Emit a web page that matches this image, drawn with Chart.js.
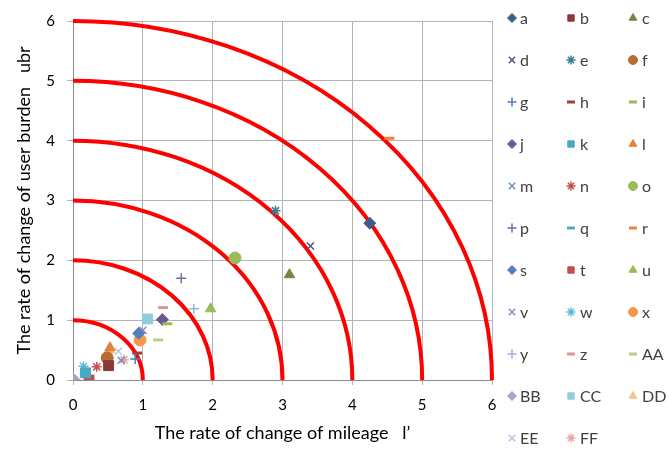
<!DOCTYPE html>
<html>
<head>
<meta charset="utf-8">
<script src="https://cdn.jsdelivr.net/npm/chart.js@4/dist/chart.umd.min.js"></script>
<style>
  html, body { margin: 0; padding: 0; background: #fff; }
  #wrap { width: 668px; height: 450px; position: relative; }
</style>
</head>
<body>
<div id="wrap"><canvas id="chart"></canvas></div>
<script>
// series names and values
const seriesNames = ['a','b','c','d','e','f','g','h','i','j','k','l','m','n','o','p',
                     'q','r','s','t','u','v','w','x','y','z','AA','BB','CC','DD','EE','FF'];
const xValues = [4.25, 0.51, 3.10, 3.40, 2.90, 0.49, 0.89, 0.92, 1.35, 1.28, 0.18, 0.53, 0.69, 0.34, 2.32, 1.55,
                 0.17, 4.53, 0.94, 0.23, 1.97, 1.00, 0.15, 0.96, 1.73, 1.29, 1.22, 0.02, 1.07, 0.52, 0.65, 0.73];
const yValues = [2.62, 0.24, 1.76, 2.24, 2.83, 0.37, 0.35, 0.45, 0.94, 1.01, 0.12, 0.54, 0.33, 0.22, 2.04, 1.70,
                 0.10, 4.04, 0.78, 0.00, 1.19, 0.83, 0.23, 0.67, 1.19, 1.21, 0.67, 0.00, 1.02, 0.50, 0.48, 0.34];
// reference rings (radius in axis units)
const ringRadii = [1, 2, 3, 4, 5, 6];
const axisTicks = [0, 1, 2, 3, 4, 5, 6];

// marker look per series (Excel style)
const markerStyles = ['rectRot','rect','triangle','crossRot','star','circle','cross','line','line','rectRot','rect','triangle','crossRot','star','circle','cross',
                      'line','line','rectRot','rect','triangle','crossRot','star','circle','cross','line','line','rectRot','rect','triangle','crossRot','star'];
const markerColors = ['#3B5E8C','#8C3836','#71893F','#5F4B7E','#357D91','#B66D31','#4A7EBB','#9E3F3C','#98B954','#6F5691','#46AAC5','#E0823A','#6E8FC4','#C9504D','#9BBB59','#8064A2',
                      '#4BACC6','#E9853A','#4F81BD','#C0504D','#9BBB59','#9A87C0','#62BBD4','#F79646','#95B3D7','#D99694','#B5CD8A','#B3A2C7','#93CDDD','#FAC090','#B0C7E3','#E6A9A8'];

const FONT = 'Lato, Carlito, "Liberation Sans", sans-serif';

function isLineStyle(s) {
  return s === 'cross' || s === 'crossRot' || s === 'star' || s === 'line';
}

const datasets = seriesNames.map((name, i) => {
  const st = markerStyles[i];
  return {
    label: name,
    data: [{ x: xValues[i], y: yValues[i] }],
    pointStyle: st,
    pointRadius: st === 'rect' ? 7 : (st === 'rectRot' ? 6 : (isLineStyle(st) ? 5 : 6)),
    pointBackgroundColor: markerColors[i],
    pointBorderColor: markerColors[i],
    pointBorderWidth: st === 'line' ? 3 : (isLineStyle(st) ? 1.5 : 1)
  };
});

// red quarter circles drawn through the axis scales
const ringsPlugin = {
  id: 'rings',
  beforeDatasetsDraw(chart) {
    const xs = chart.scales.x, ys = chart.scales.y, ctx = chart.ctx;
    const x0 = xs.getPixelForValue(0), y0 = ys.getPixelForValue(0);
    ctx.save();
    ctx.strokeStyle = '#FF0000';
    ctx.lineWidth = 4;
    ringRadii.forEach(r => {
      const rx = xs.getPixelForValue(r) - x0;
      const ry = y0 - ys.getPixelForValue(r);
      ctx.beginPath();
      ctx.ellipse(x0, y0, rx, ry, 0, -Math.PI / 2, 0);
      ctx.stroke();
    });
    ctx.restore();
  }
};

// legend in 3 columns, row by row like the original
const gridLegend = {
  id: 'gridLegend',
  afterDraw(chart) {
    const ctx = chart.ctx;
    const colMarker = [512, 571, 633];
    const colText = [520, 580, 642];
    ctx.save();
    ctx.font = '16px ' + FONT;
    ctx.textBaseline = 'middle';
    chart.data.datasets.forEach((ds, i) => {
      const row = Math.floor(i / 3), col = i % 3;
      const y = 18 + row * 42;
      const st = ds.pointStyle;
      ctx.fillStyle = ds.pointBackgroundColor;
      ctx.strokeStyle = ds.pointBorderColor;
      ctx.lineWidth = st === 'line' ? 3 : (isLineStyle(st) ? 1.5 : 1);
      Chart.helpers.drawPoint(ctx, {
        pointStyle: st,
        radius: st === 'line' ? 4 : 4.5,
        borderWidth: ctx.lineWidth,
        rotation: 0
      }, colMarker[col], y);
      ctx.fillStyle = '#404040';
      ctx.fillText(ds.label, colText[col], y + 1);
    });
    ctx.restore();
  }
};

new Chart(document.getElementById('chart'), {
  type: 'scatter',
  data: { datasets },
  options: {
    responsive: true,
    maintainAspectRatio: false,
    animation: false,
    layout: { padding: { top: 14, right: 176, left: 0, bottom: 0 } },
    plugins: {
      legend: { display: false },
      tooltip: { enabled: false }
    },
    scales: {
      x: {
        type: 'linear',
        min: 0, max: 6,
        afterBuildTicks: s => { s.ticks = axisTicks.map(v => ({ value: v })); },
        afterFit: s => { s.height = 70; },
        grid: { color: '#B3B3B3', lineWidth: 1, tickLength: 5 },
        border: { color: '#8C8C8C' },
        ticks: { padding: 11, color: '#000', font: { family: FONT, size: 15 } },
        title: {
          display: true,
          text: 'The rate of change of mileage   l’',
          color: '#000',
          font: { family: FONT, size: 18 },
          padding: { top: 0, bottom: 6 }
        }
      },
      y: {
        type: 'linear',
        min: 0, max: 6,
        afterBuildTicks: s => { s.ticks = axisTicks.map(v => ({ value: v })); },
        afterFit: s => { s.width = 73; },
        grid: { color: '#B3B3B3', lineWidth: 1, tickLength: 6 },
        border: { color: '#8C8C8C' },
        ticks: { padding: 12, color: '#000', font: { family: FONT, size: 15 } },
        title: {
          display: true,
          text: 'The rate of change of user burden   ubr',
          color: '#000',
          font: { family: FONT, size: 18 },
          padding: { top: 13, bottom: 0 }
        }
      }
    }
  },
  plugins: [ringsPlugin, gridLegend]
});
</script>
</body>
</html>
